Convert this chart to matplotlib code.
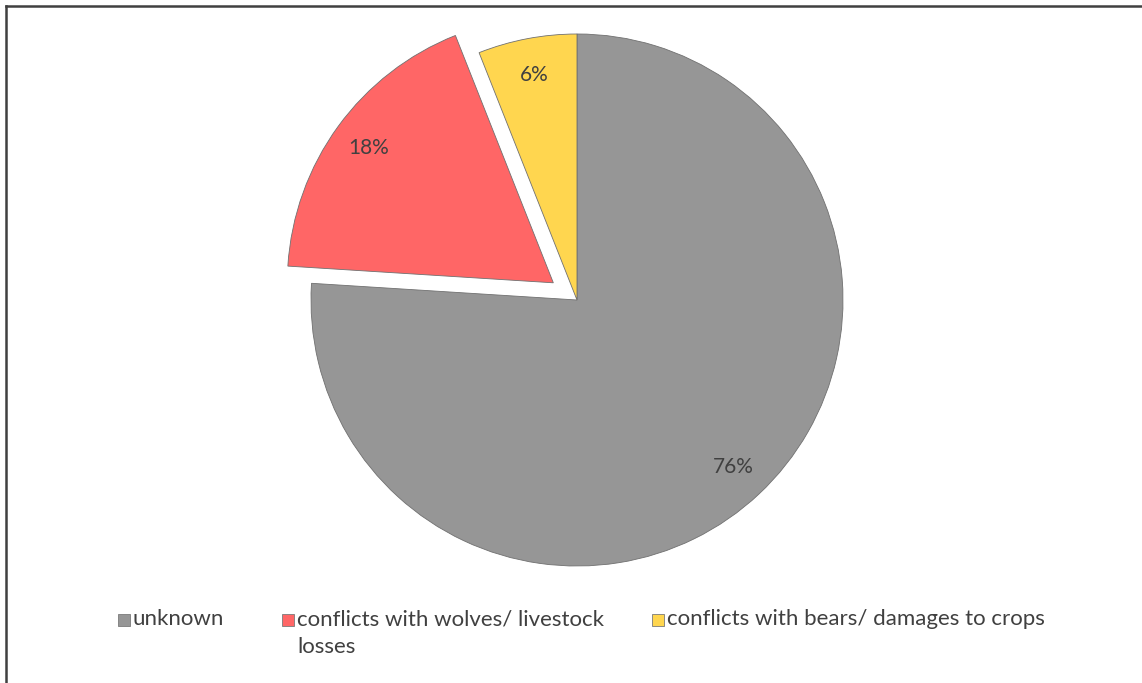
import matplotlib.pyplot as plt
from matplotlib.lines import Line2D
from matplotlib.patches import Rectangle

categories = ["unknown", "conflicts with wolves/ livestock\nlosses",
              "conflicts with bears/ damages to crops"]
shares = [76, 18, 6]
colors = ["#969696", "#FF6666", "#FFD64F"]
explode = [0, 0.11, 0]

W, H = 1142, 683
fig = plt.figure(figsize=(W / 100, H / 100), dpi=100)
plt.rcParams['font.family'] = ['Lato', 'DejaVu Sans']

# pie centred at (577, 300) px with radius 266 px
cx, cy, r = 577, 300, 266
lim = 1.25
half = r * lim
ax = fig.add_axes([(cx - half) / W, (H - cy - half) / H, 2 * half / W, 2 * half / H])
wedges, texts, autotexts = ax.pie(
    shares, colors=colors, explode=explode, startangle=90, counterclock=False,
    autopct='%1.0f%%', pctdistance=0.86,
    wedgeprops=dict(edgecolor='#707070', linewidth=0.6),
    textprops=dict(color='#404040', fontsize=15))
ax.set_xlim(-lim, lim)
ax.set_ylim(-lim, lim)
ax.set_aspect('equal')

# legend along the bottom
leg_x = [118, 282, 652]
for x, lab, c in zip(leg_x, categories, colors):
    fig.patches.append(Rectangle((x / W, (H - 626) / H), 12 / W, 12 / H,
                                 transform=fig.transFigure, facecolor=c,
                                 edgecolor='#7a7a7a', linewidth=0.6))
    fig.text((x + 15) / W, (H - 609) / H, lab, ha='left', va='top',
             fontsize=16, color='#404040', linespacing=1.5)

# frame lines on top and left edge
fig.add_artist(Line2D([6 / W, 6 / W], [0, (H - 5.5) / H], color='#404040', lw=1.8,
                      transform=fig.transFigure))
fig.add_artist(Line2D([6 / W, 1], [(H - 5.5) / H, (H - 5.5) / H], color='#404040', lw=1.8,
                      transform=fig.transFigure))

fig.savefig('out.png', dpi=100)
